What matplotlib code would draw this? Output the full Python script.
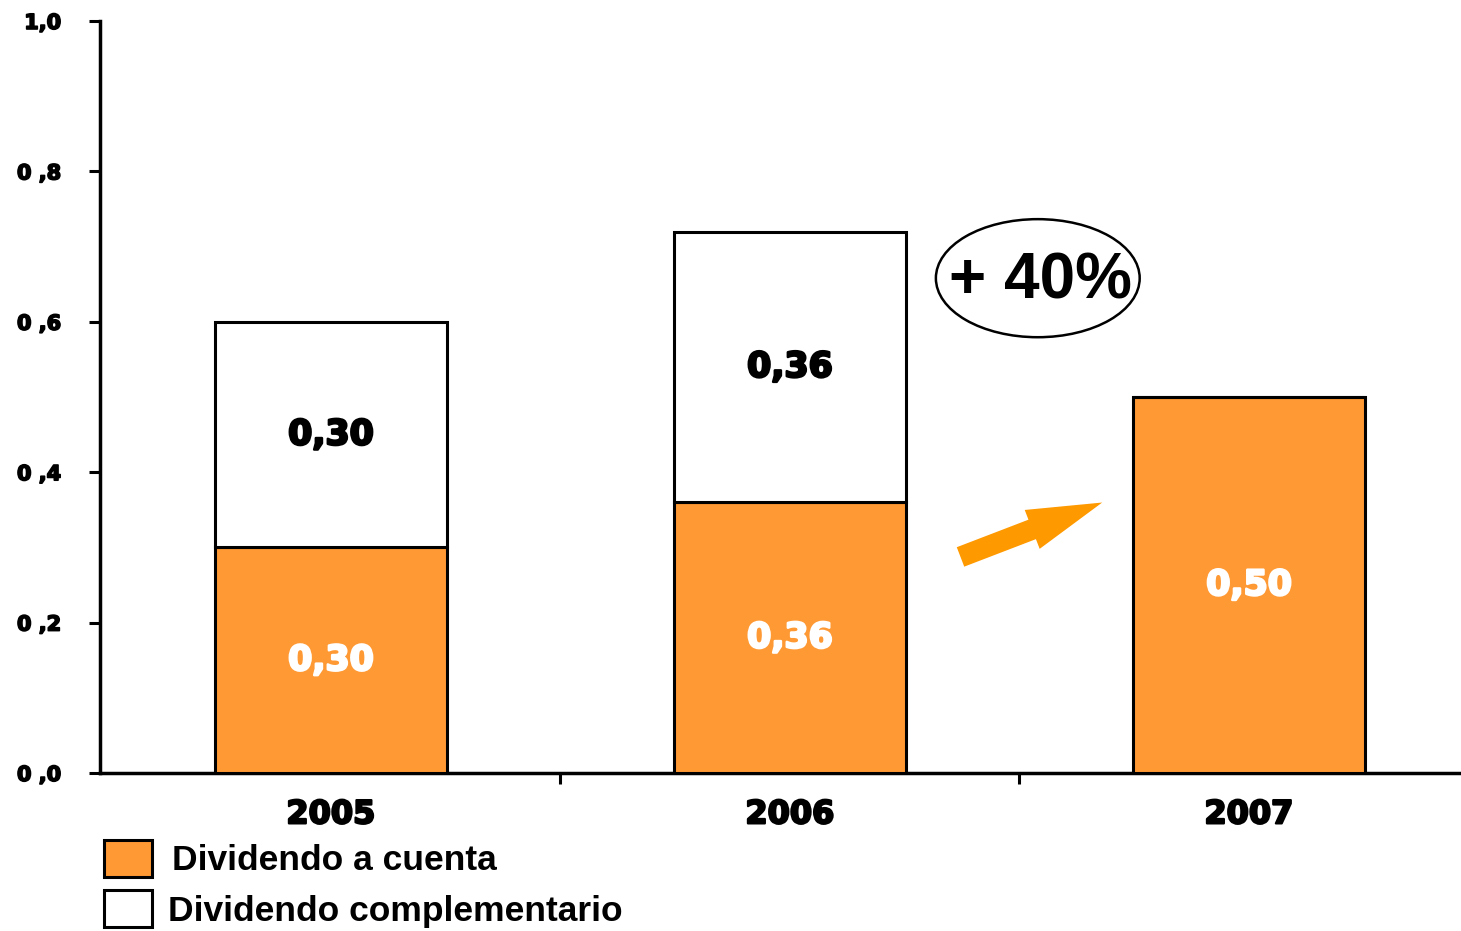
import matplotlib
matplotlib.use('Agg')
import matplotlib.pyplot as plt
import matplotlib.patheffects as pe
from matplotlib.patches import Ellipse, Rectangle, FancyArrowPatch

# datos de dividendos por año
anios = ['2005', '2006', '2007']
a_cuenta = [0.30, 0.36, 0.50]
complementario = [0.30, 0.36, 0.0]
etq_cuenta = ['0,30', '0,36', '0,50']
etq_compl = ['0,30', '0,36', '']
y_ticks = [0.0, 0.2, 0.4, 0.6, 0.8, 1.0]
y_etq = ['0 ,0', '0 ,2', '0 ,4', '0 ,6', '0 ,8', '1,0']

naranja = '#FF9933'
flecha_color = '#FF9900'
ancho = 0.505

def grueso(c, w=1.3):
   # trazo extra para simular una fuente tipo "black"
   return [pe.withStroke(linewidth=w, foreground=c)]

fig = plt.figure(figsize=(14.61, 9.31), dpi=100)
ax = fig.add_axes([100/1461, 1-773/931, 1-100/1461, (773-21)/931])

x = range(len(anios))
ax.bar(x, a_cuenta, width=ancho, color=naranja, edgecolor='black', linewidth=2.2, zorder=3)
ax.bar(x, complementario, width=ancho, bottom=a_cuenta, color='white',
       edgecolor='black', linewidth=2.2, zorder=3)

# etiquetas de valores dentro de las barras
for i in x:
   ax.text(i, a_cuenta[i]/2, etq_cuenta[i], ha='center', va='center', color='white',
           fontsize=25, fontweight='bold', family='DejaVu Sans', zorder=4,
           path_effects=grueso('white', 1.8))
   if complementario[i] > 0:
      ax.text(i, a_cuenta[i] + complementario[i]/2, etq_compl[i], ha='center', va='center',
              color='black', fontsize=25, fontweight='bold', family='DejaVu Sans', zorder=4,
              path_effects=grueso('black', 1.8))

ax.set_xlim(-0.503, 2.462)
ax.set_ylim(0, 1.0)
ax.set_yticks(y_ticks)
ax.set_yticklabels(y_etq, fontsize=15, fontweight='bold', family='DejaVu Sans')
for t in ax.get_yticklabels():
   t.set_path_effects(grueso('black', 1.2))
ax.tick_params(axis='y', direction='out', length=8, width=2.2, pad=20)

# separadores entre categorias y nombres de los años
ax.set_xticks([0.5, 1.5])
ax.set_xticklabels(['', ''])
ax.set_xticks([0, 1, 2], minor=True)
ax.set_xticklabels(anios, minor=True, fontsize=23, fontweight='bold', family='DejaVu Sans')
for t in ax.get_xticklabels(minor=True):
   t.set_path_effects(grueso('black', 1.6))
ax.tick_params(axis='x', which='major', direction='out', length=8, width=2.2)
ax.tick_params(axis='x', which='minor', length=0, pad=19)

for s in ['top', 'right']:
   ax.spines[s].set_visible(False)
ax.spines['left'].set_linewidth(2.5)
ax.spines['bottom'].set_linewidth(2.5)

# ovalo con el incremento
ax.add_patch(Ellipse((1.540, 0.658), 0.444, 0.157, facecolor='white', edgecolor='black',
                     linewidth=1.8, zorder=5))
ax.text(1.545, 0.654, '+ 40%', ha='center', va='center', fontsize=46, fontweight='bold',
        family='Liberation Sans', zorder=6)

# flecha naranja
ax.add_patch(FancyArrowPatch((1.366, 0.286), (1.686, 0.361),
                             arrowstyle='simple,head_width=30,head_length=54,tail_width=15',
                             color=flecha_color, linewidth=0, zorder=5, mutation_scale=1))

# leyenda
fig.patches.append(Rectangle((104/1461, 1-877/931), 48/1461, 37/931, facecolor=naranja,
                             edgecolor='black', linewidth=2.2, transform=fig.transFigure))
fig.patches.append(Rectangle((104/1461, 1-927/931), 48/1461, 37/931, facecolor='white',
                             edgecolor='black', linewidth=2.2, transform=fig.transFigure))
fuente_ley = ['Liberation Sans Narrow', 'Liberation Sans']
fig.text(172/1461, 1-861/931, 'Dividendo a cuenta', ha='left', va='center', fontsize=25.5,
         fontweight='bold', family=fuente_ley)
fig.text(168/1461, 1-911/931, 'Dividendo complementario', ha='left', va='center', fontsize=25.5,
         fontweight='bold', family=fuente_ley)

fig.savefig('out.png', dpi=100)
